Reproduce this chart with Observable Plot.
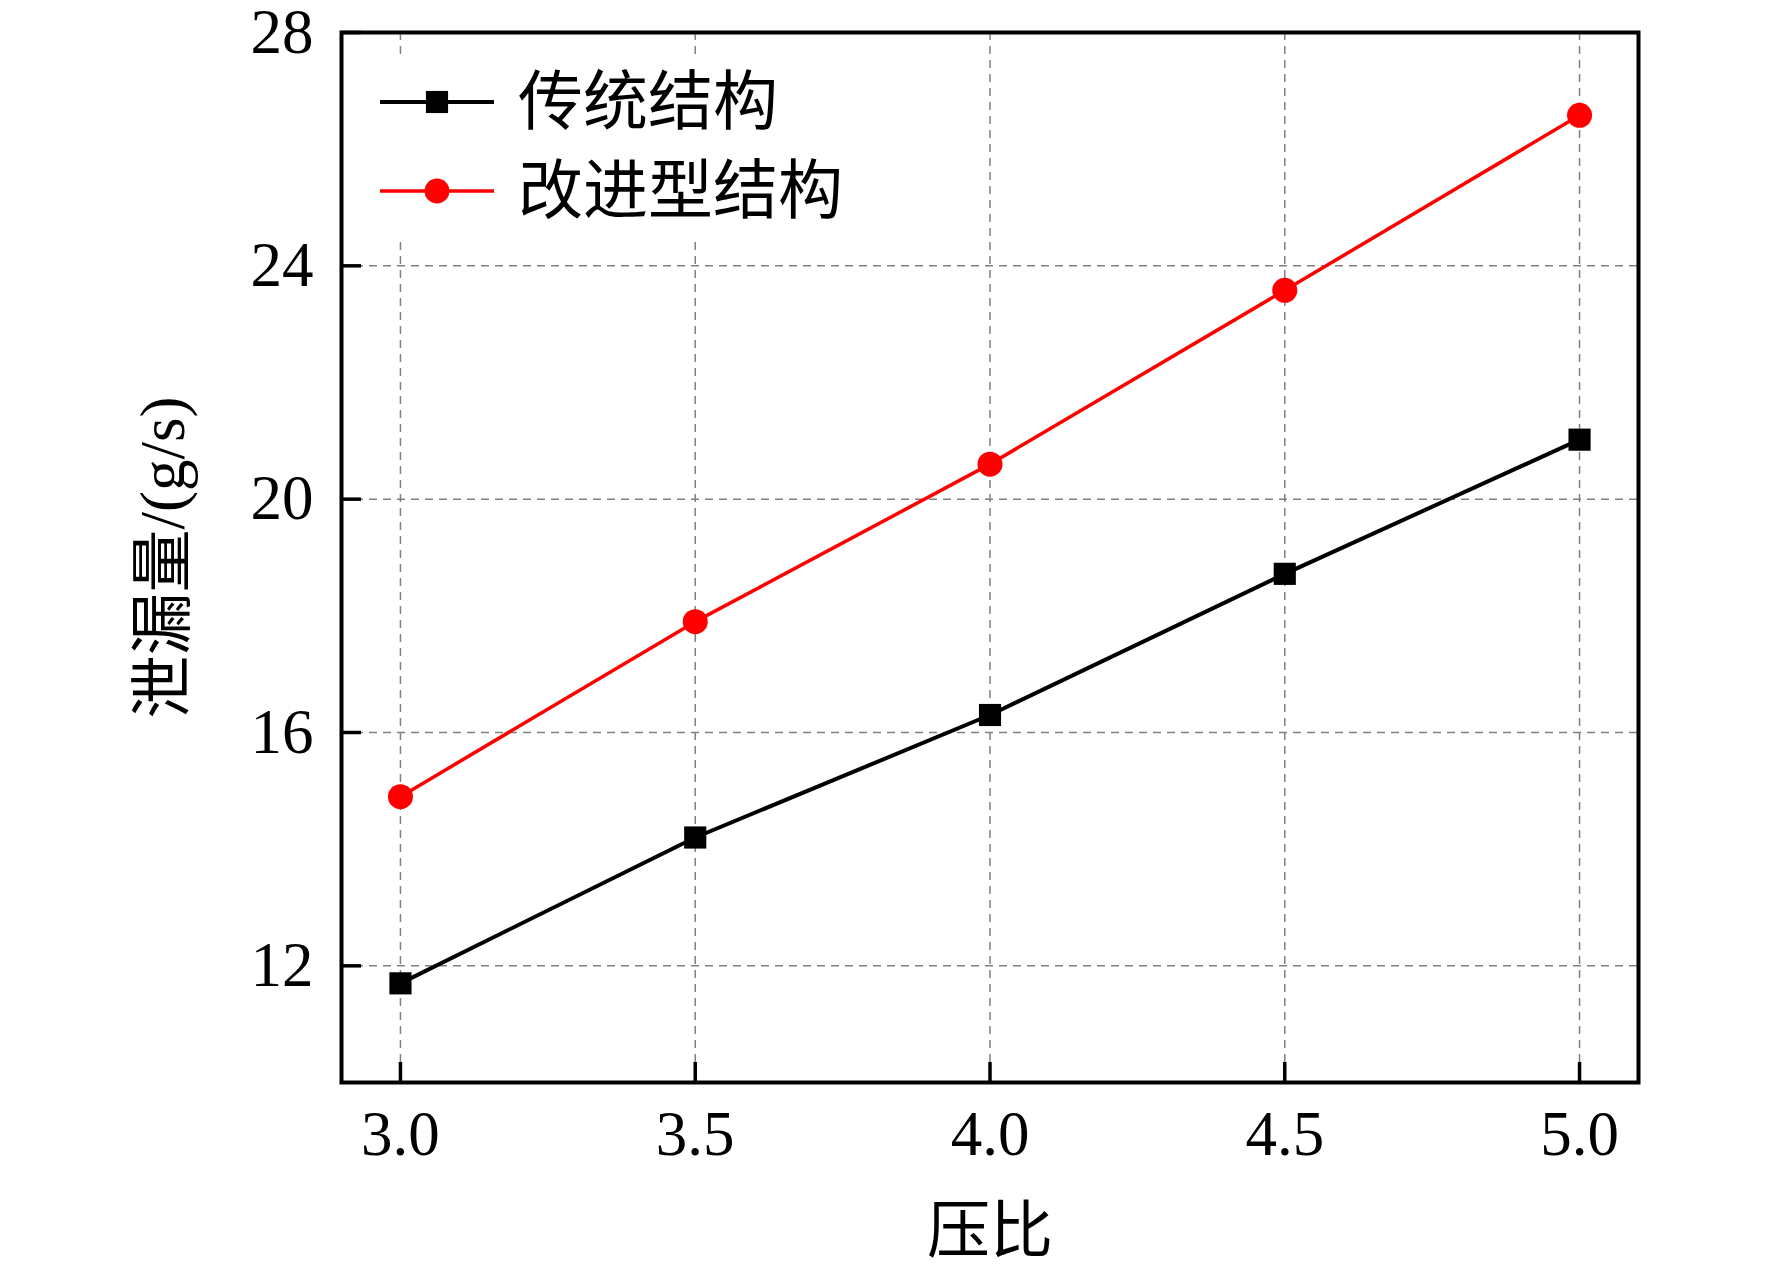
<!DOCTYPE html>
<html>
<head>
<meta charset="utf-8">
<script src="https://cdn.jsdelivr.net/npm/d3@7"></script>
<script src="https://cdn.jsdelivr.net/npm/@observablehq/plot@0.6"></script>
<style>
  html, body { margin: 0; padding: 0; background: #fff; }
  #wrap { position: relative; width: 1772px; height: 1273px; }
  #legend { position: absolute; left: 366px; top: 56px; width: 500px; height: 184px; background: #fff;
            font-family: "Liberation Serif", "Noto Sans CJK SC", serif; font-size: 65px; color: #000; }
  .row { position: absolute; left: 0; height: 80px; display: flex; align-items: center; }
  .row svg { display: block; }
  .row span { margin-left: 24px; line-height: 1; }
</style>
</head>
<body>
<div id="wrap"><div id="legend"></div></div>
<script>
const pressureRatio = [3.0, 3.5, 4.0, 4.5, 5.0];
const traditional = [11.70, 14.20, 16.30, 18.72, 21.02];
const improved = [14.90, 17.90, 20.60, 23.58, 26.58];
const seriesNames = ["传统结构", "改进型结构"];
const seriesColors = ["#000000", "#ff0000"];
const seriesSymbols = ["square", "circle"];
const xTicks = [3.0, 3.5, 4.0, 4.5, 5.0];
const yTicks = [12, 16, 20, 24, 28];
const xLabel = "压比";
const yLabel = "泄漏量/(g/s)";

const rows = [];
pressureRatio.forEach((x, i) => {
  rows.push({x, y: traditional[i], s: seriesNames[0]});
  rows.push({x, y: improved[i], s: seriesNames[1]});
});
const fontFamily = '"Liberation Serif", "Noto Sans CJK SC", serif';

const chart = Plot.plot({
  width: 1772,
  height: 1273,
  marginLeft: 341,
  marginRight: 134,
  marginTop: 32,
  marginBottom: 191,
  style: {fontFamily, fontSize: "62px", color: "#000", background: "#fff"},
  x: {domain: [2.9, 5.1]},
  y: {domain: [10, 28]},
  color: {domain: seriesNames, range: seriesColors},
  symbol: {domain: seriesNames, range: seriesSymbols},
  marks: [
    Plot.gridX(xTicks, {stroke: "#808080", strokeOpacity: 1, strokeWidth: 1.5, strokeDasharray: "8,6"}),
    Plot.gridY(yTicks, {stroke: "#808080", strokeOpacity: 1, strokeWidth: 1.5, strokeDasharray: "8,6"}),
    Plot.line(rows.filter(d => d.s === seriesNames[0]), {x: "x", y: "y", stroke: seriesColors[0], strokeWidth: 4}),
    Plot.line(rows.filter(d => d.s === seriesNames[1]), {x: "x", y: "y", stroke: seriesColors[1], strokeWidth: 3.5}),
    Plot.dot(rows, {x: "x", y: "y", fill: "s", symbol: "s", r: 12.5}),
    Plot.frame({stroke: "#000", strokeWidth: 4}),
    Plot.axisX(xTicks, {tickFormat: d3.format(".1f"), tickSize: -20, tickPadding: 48, strokeWidth: 3.5,
      fontSize: 63, label: xLabel, labelAnchor: "center", labelArrow: "none", labelOffset: 169}),
    Plot.axisY(yTicks, {tickFormat: d3.format("d"), tickSize: -20, tickPadding: 48, strokeWidth: 3.5,
      fontSize: 63, label: yLabel, labelAnchor: "center", labelArrow: "none", labelOffset: 202})
  ]
});
document.getElementById("wrap").prepend(chart);

// legend
const legend = d3.select("#legend");
seriesNames.forEach((name, i) => {
  const row = legend.append("div").attr("class", "row").style("top", (i === 0 ? 6 : 95) + "px");
  const svg = row.append("svg").attr("width", 128).attr("height", 40);
  svg.append("line").attr("x1", 14).attr("x2", 128).attr("y1", 20).attr("y2", 20)
    .attr("stroke", seriesColors[i]).attr("stroke-width", i === 0 ? 4 : 3.5);
  svg.append("path").attr("transform", "translate(71,20)")
    .attr("d", d3.symbol(seriesSymbols[i] === "square" ? d3.symbolSquare : d3.symbolCircle, Math.PI * 12.5 * 12.5)())
    .attr("fill", seriesColors[i]);
  row.append("span").text(name);
});
</script>
</body>
</html>
